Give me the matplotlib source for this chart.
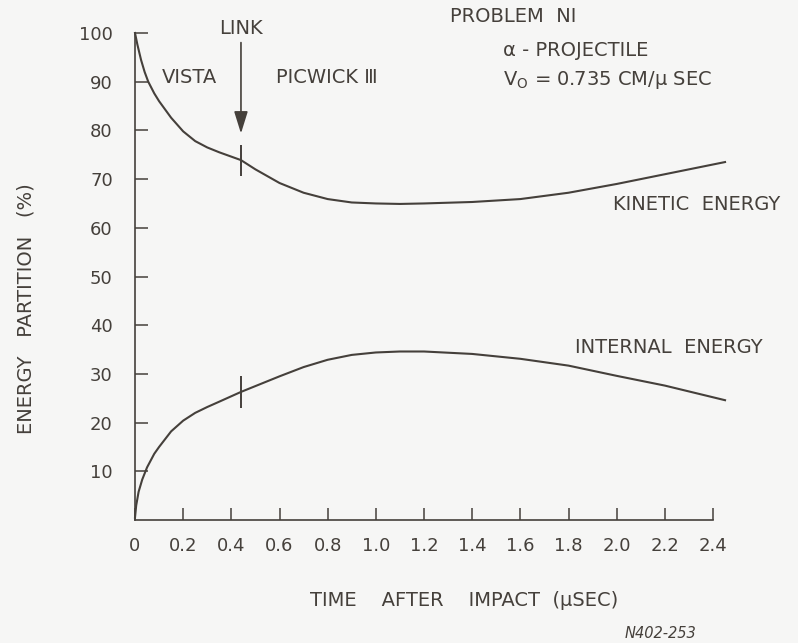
import numpy as np
import matplotlib
matplotlib.use("Agg")
import matplotlib.pyplot as plt

# energy partition vs time after impact
t_ke = [0, 0.01, 0.025, 0.04, 0.055, 0.08, 0.1, 0.15, 0.2, 0.25, 0.3, 0.35, 0.44, 0.5,
        0.6, 0.7, 0.8, 0.9, 1.0, 1.1, 1.2, 1.4, 1.6, 1.8, 2.0, 2.2, 2.45]
ke = [100, 97.6, 94.5, 92.0, 90.0, 87.6, 86, 82.6, 79.8, 77.8, 76.5, 75.5, 73.9, 72.0,
      69.2, 67.2, 65.9, 65.2, 65.0, 64.9, 65.0, 65.3, 65.9, 67.2, 69.0, 71.0, 73.5]

t_ie = [0, 0.005, 0.015, 0.03, 0.05, 0.08, 0.1, 0.15, 0.2, 0.25, 0.3, 0.35, 0.44, 0.5,
        0.6, 0.7, 0.8, 0.9, 1.0, 1.1, 1.2, 1.4, 1.6, 1.8, 2.0, 2.2, 2.45]
ie = [0.5, 3, 5.8, 8.3, 10.8, 13.6, 15, 18.2, 20.4, 22, 23.2, 24.3, 26.3, 27.5,
      29.5, 31.4, 32.9, 33.9, 34.4, 34.6, 34.6, 34.1, 33.1, 31.7, 29.6, 27.6, 24.6]

link_t = 0.44
xticks = [0, 0.2, 0.4, 0.6, 0.8, 1.0, 1.2, 1.4, 1.6, 1.8, 2.0, 2.2, 2.4]
xtick_labels = ["0", "0.2", "0.4", "0.6", "0.8", "1.0", "1.2", "1.4", "1.6",
                "1.8", "2.0", "2.2", "2.4"]
yticks = [10, 20, 30, 40, 50, 60, 70, 80, 90, 100]

ink = "#45403b"
bg = "#f6f6f5"

fig = plt.figure(figsize=(7.98, 6.43), dpi=100, facecolor=bg)
ax = fig.add_axes([135 / 798, 1 - 520 / 643, (713 - 135) / 798, (520 - 33) / 643])
ax.set_facecolor(bg)

ax.plot(t_ke, ke, color=ink, lw=1.5, clip_on=False)
ax.plot(t_ie, ie, color=ink, lw=1.5, clip_on=False)

# link markers on both curves
for t, v in ((t_ke, ke), (t_ie, ie)):
    yv = np.interp(link_t, t, v)
    ax.vlines(link_t, yv - 3.2, yv + 3.2, color=ink, lw=1.4)

ax.annotate("", xy=(link_t, 78.8), xytext=(link_t, 98.6),
            arrowprops=dict(arrowstyle="-|>,head_length=0.9,head_width=0.28",
                            color=ink, lw=1.2, mutation_scale=15))

ax.set_xlim(0, 2.4)
ax.set_ylim(0, 100)
for s in ("top", "right"):
    ax.spines[s].set_visible(False)
for s in ("left", "bottom"):
    ax.spines[s].set_color(ink)
    ax.spines[s].set_linewidth(1.2)

ax.set_xticks(xticks)
ax.set_xticklabels(xtick_labels)
ax.set_yticks(yticks)
ax.tick_params(direction="in", length=9, width=1.1, color=ink,
               labelcolor=ink, labelsize=13, pad=12)
ax.tick_params(axis="y", pad=16)

fs = 14
ax.text(link_t, 101.0, "LINK", ha="center", va="center", color=ink, fontsize=fs)
ax.text(0.112, 90.8, "VISTA", ha="left", va="center", color=ink, fontsize=fs)
ax.text(0.585, 90.8, "PICWICK Ⅲ", ha="left", va="center", color=ink, fontsize=fs)
ax.text(1.307, 103.3, "PROBLEM  NI", ha="left", va="center", color=ink, fontsize=fs)
ax.text(1.527, 96.5, "α - PROJECTILE", ha="left", va="center", color=ink, fontsize=fs)
ax.text(1.527, 90.3, r"V$_\mathregular{O}$ = 0.735 CM/μ SEC", ha="left",
        va="center", color=ink, fontsize=fs)
ax.text(1.983, 64.7, "KINETIC  ENERGY", ha="left", va="center", color=ink, fontsize=fs)
ax.text(1.826, 35.5, "INTERNAL  ENERGY", ha="left", va="center", color=ink, fontsize=fs)

fig.text(464 / 798, 1 - 600 / 643, "TIME    AFTER    IMPACT  (μSEC)", ha="center",
         va="center", color=ink, fontsize=fs)
fig.text(26 / 798, 1 - 309 / 643, "ENERGY   PARTITION   (%)", ha="center",
         va="center", rotation=90, color=ink, fontsize=fs)
fig.text(660 / 798, 1 - 633 / 643, "N402-253", ha="center", va="center",
         color=ink, fontsize=10.5, style="italic")

fig.savefig("out.png", dpi=100, facecolor=bg)
